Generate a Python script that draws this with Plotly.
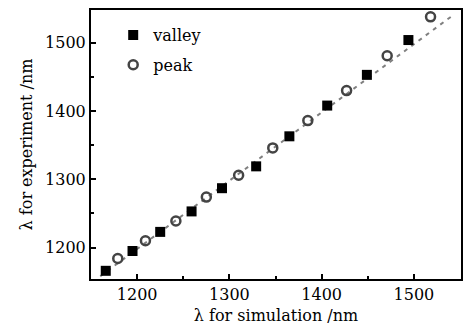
import plotly.graph_objects as go

valley_x = [1166, 1195, 1225, 1259, 1292, 1329, 1365, 1406, 1449, 1494]
valley_y = [1166, 1195, 1223, 1253, 1287, 1319, 1363, 1408, 1453, 1504]
peak_x = [1179, 1209, 1242, 1275, 1310, 1347, 1385, 1427, 1471, 1518]
peak_y = [1184, 1210, 1239, 1274, 1306, 1346, 1386, 1430, 1481, 1538]
fit_x = [1160, 1542]
fit_y = [1158, 1540]
x_ticks = [1200, 1300, 1400, 1500]
y_ticks = [1200, 1300, 1400, 1500]

font = "DejaVu Serif"

fig = go.Figure()
fig.add_trace(go.Scatter(x=fit_x, y=fit_y, mode="lines", showlegend=False,
                         line=dict(color="#808080", width=2, dash="4px,5px")))
fig.add_trace(go.Scatter(x=valley_x, y=valley_y, mode="markers", name="valley",
                         legendgroup="v",
                         marker=dict(symbol="square", size=10, color="black")))
fig.add_trace(go.Scatter(x=peak_x, y=peak_y, mode="markers", name="peak",
                         legendgroup="p",
                         marker=dict(symbol="circle-open", size=9, color="#444",
                                     line=dict(width=2.5, color="#444"))))

axis_common = dict(showline=True, linecolor="black", linewidth=2, mirror=True,
                   ticks="inside", ticklen=5, tickwidth=1.5, tickcolor="black",
                   showgrid=False, zeroline=False,
                   tickfont=dict(family=font, size=16, color="black"),
                   minor=dict(ticks="inside", ticklen=3, tickwidth=1.5,
                              tickcolor="black", dtick=50))

fig.update_xaxes(range=[1150, 1551], tickvals=x_ticks,
                 title=dict(text="λ for simulation /nm", standoff=7,
                            font=dict(family=font, size=16, color="black")),
                 **axis_common)
fig.update_yaxes(range=[1154, 1548], tickvals=y_ticks,
                 title=dict(text="λ for experiment /nm", standoff=8,
                            font=dict(family=font, size=16, color="black")),
                 **axis_common)

fig.update_layout(
    width=471, height=333,
    margin=dict(l=91, r=10, t=8, b=54),
    paper_bgcolor="white", plot_bgcolor="white",
    legend=dict(x=0.06, y=0.97, xanchor="left", yanchor="top",
                bgcolor="rgba(0,0,0,0)", itemwidth=30, tracegroupgap=6,
                font=dict(family=font, size=16, color="black")),
)

fig.write_html("out.html")
